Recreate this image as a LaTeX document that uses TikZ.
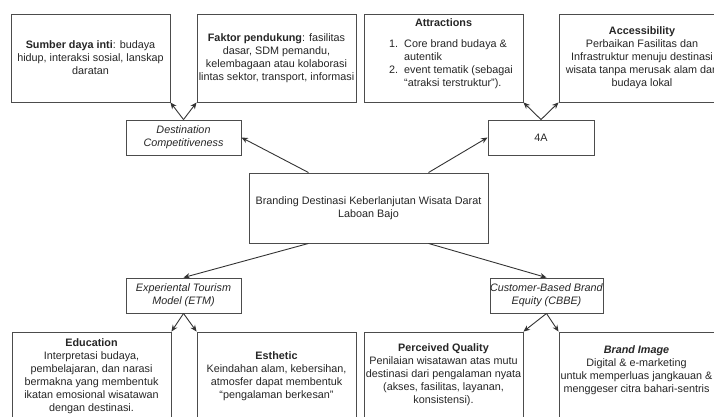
\documentclass[tikz,border=0pt]{standalone}
\usepackage{fontspec}
\setmainfont{Liberation Sans}
\usetikzlibrary{arrows.meta,calc}
\tikzset{
  box/.style={draw=black!70, line width=0.9pt, fill=white, inner sep=0pt},
  txt/.style={align=center, font=\fontsize{10.8}{13}\selectfont, text=black!85, inner sep=0pt},
  arr/.style={draw=black!80, line width=0.9pt, -{Stealth[length=6.5pt,width=5.5pt]}},
}
\begin{document}
\begin{tikzpicture}[x=1pt,y=-1pt]
\useasboundingbox (0,0) rectangle (714,417);
\clip (0,0) rectangle (714,417);
% top boxes
\node[box, minimum width=159, minimum height=88] (sumber) at (90.5,58) {};
\node[box, minimum width=159, minimum height=88] (faktor) at (276.5,58) {};
\node[box, minimum width=159, minimum height=88] (attr) at (443.5,58) {};
\node[box, minimum width=168, minimum height=88] (access) at (643,58) {};
\node[txt] (sumbertxt) at (90.5,58) {\textbf{Sumber daya inti}: budaya\\hidup, interaksi sosial, lanskap\\daratan};
\node[txt] (faktortxt) at (276.5,58) {\textbf{Faktor pendukung}: fasilitas\\dasar, SDM pemandu,\\kelembagaan atau kolaborasi\\lintas sektor, transport, informasi};
\node[txt] (attrtitle) at (443.5,23) {\textbf{Attractions}};
\node[txt, anchor=west] (attrlist) at (389,64) {\begin{tabular}{@{}r@{\ \ }l@{}}1. & Core brand budaya \&\\ & autentik\\2. & event tematik (sebagai\\ & “atraksi terstruktur”).\end{tabular}};
\node[txt] (accesstxt) at (642,58) {\textbf{Accessibility}\\Perbaikan Fasilitas dan\\Infrastruktur menuju destinasi\\wisata tanpa merusak alam dari\\budaya lokal};
% middle boxes
\node[box, txt, minimum width=115, minimum height=35] (dc) at (183.5,137.5) {\textit{Destination}\\\textit{Competitiveness}};
\node[box, txt, minimum width=106, minimum height=35] (fourA) at (541,137.5) {4A};
\node[box, txt, minimum width=239, minimum height=70] (central) at (368.5,208) {Branding Destinasi Keberlanjutan Wisata Darat\\Laboan Bajo};
\node[box, txt, minimum width=115, minimum height=35] (etm) at (183.5,295.5) {\textit{Experiental Tourism}\\\textit{Model (ETM)}};
\node[box, txt, minimum width=111, minimum height=35] (cbbe) at (546.5,295.5) {\textit{Customer-Based Brand}\\\textit{Equity (CBBE)}};
% bottom boxes
\node[box, minimum width=159, minimum height=88] (edu) at (91.5,376) {};
\node[box, minimum width=159, minimum height=88] (esth) at (276.5,376) {};
\node[box, minimum width=159, minimum height=88] (perc) at (443.5,376) {};
\node[box, minimum width=168, minimum height=88] (brand) at (643,376) {};
\node[txt] (edutxt) at (91.5,376.5) {\textbf{Education}\\Interpretasi budaya,\\pembelajaran, dan narasi\\bermakna yang membentuk\\ikatan emosional wisatawan\\dengan destinasi.};
\node[txt] (esthtxt) at (276.5,376) {\textbf{Esthetic}\\Keindahan alam, kebersihan,\\atmosfer dapat membentuk\\“pengalaman berkesan”};
\node[txt] (perctxt) at (443.5,374.5) {\textbf{Perceived Quality}\\Penilaian wisatawan atas mutu\\destinasi dari pengalaman nyata\\(akses, fasilitas, layanan,\\konsistensi).};
\node[txt] (brandtxt) at (636.5,370.5) {\textbf{\textit{Brand Image}}\\Digital \& e-marketing\\untuk memperluas jangkauan \&\\menggeser citra bahari-sentris};
% connectors
\draw[arr] (dc.north) -- (sumber.south east);
\draw[arr] (dc.north) -- (faktor.south west);
\draw[arr] (fourA.north) -- (attr.south east);
\draw[arr] (fourA.north) -- (access.south west);
\draw[arr] ($(central.north west)!0.25!(central.north east)$) -- (dc.east);
\draw[arr] ($(central.north west)!0.75!(central.north east)$) -- (fourA.west);
\draw[arr] ($(central.south west)!0.25!(central.south east)$) -- (etm.north);
\draw[arr] ($(central.south west)!0.75!(central.south east)$) -- (cbbe.north);
\draw[arr] (etm.south) -- (edu.north east);
\draw[arr] (etm.south) -- (esth.north west);
\draw[arr] (cbbe.south) -- (perc.north east);
\draw[arr] (cbbe.south) -- (brand.north west);
\end{tikzpicture}
\end{document}
